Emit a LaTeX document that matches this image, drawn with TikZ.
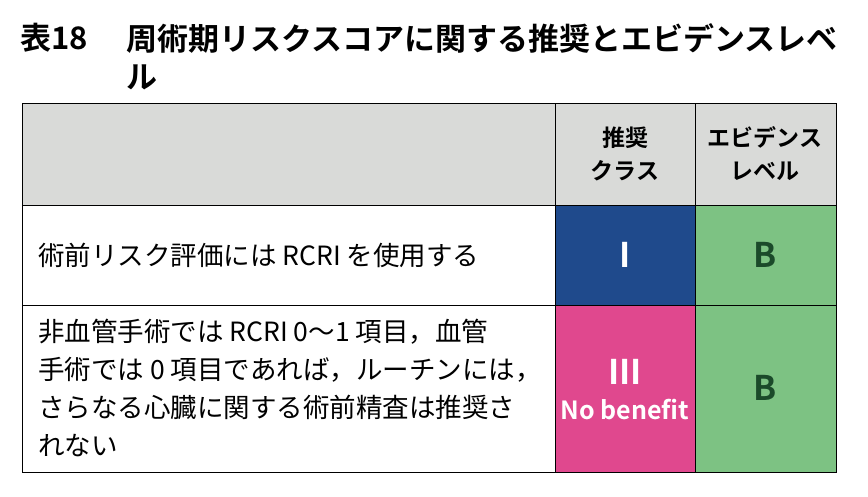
\documentclass[tikz,border=0pt]{standalone}
\usepackage{fontspec}
\setmainfont{Noto Sans CJK JP}
\newfontfamily\jpb{Noto Sans CJK JP Bold}
\definecolor{hdr}{HTML}{D9DAD8}
\definecolor{cblue}{HTML}{1F4A8C}
\definecolor{cpink}{HTML}{E0488E}
\definecolor{cgreen}{HTML}{7DC283}
\definecolor{bgreen}{HTML}{1B4A2A}
\begin{document}
\begin{tikzpicture}[x=1pt,y=-1pt,
  cell/.style={draw=black,line width=1pt},
  body/.style={anchor=west,font=\fontsize{26.5}{38}\selectfont,align=left,inner sep=0pt},
  hd/.style={font=\jpb\fontsize{23}{33}\selectfont,align=center,inner sep=0pt},
  big/.style={font=\jpb\fontsize{34}{36}\selectfont,inner sep=0pt},
  ttl/.style={anchor=west,inner sep=0pt,font=\jpb\fontsize{31}{36}\selectfont}]
\useasboundingbox (0,0) rectangle (868,496);
\fill[white] (0,0) rectangle (868,496);
\node[ttl] (t1) at (20,38) {表18};
\node[ttl] (t2) at (126,38) {周術期リスクスコアに関する推奨とエビデンスレベ};
\node[ttl] (t3) at (126,77) {ル};
\path[cell,fill=hdr] (22,103) rectangle (555,205);
\path[cell,fill=hdr] (555,103) rectangle (695,205);
\path[cell,fill=hdr] (695,103) rectangle (836,205);
\path[cell,fill=white] (22,205) rectangle (555,305);
\path[cell,fill=cblue] (555,205) rectangle (695,305);
\path[cell,fill=cgreen] (695,205) rectangle (836,305);
\path[cell,fill=white] (22,305) rectangle (555,472);
\path[cell,fill=cpink] (555,305) rectangle (695,472);
\path[cell,fill=cgreen] (695,305) rectangle (836,472);
\node[hd] (h1) at (625,154) {推奨\\クラス};
\node[hd] (h2) at (765,154) {エビデンス\\レベル};
\node[body] (r1) at (38,255) {術前リスク評価には RCRI を使用する};
\node[big,text=white] (c1) at (625,255) {I};
\node[big,text=bgreen] (e1) at (765,255) {B};
\node[body] (r2) at (38,388) {非血管手術では RCRI 0～1 項目，血管\\手術では 0 項目であれば，ルーチンには，\\さらなる心臓に関する術前精査は推奨さ\\れない};
\node[big,text=white] (c2) at (625,372) {III};
\node[text=white,font=\jpb\fontsize{25}{28}\selectfont,inner sep=0pt] (c2b) at (625,410) {No benefit};
\node[big,text=bgreen] (e2) at (765,388) {B};
\end{tikzpicture}
\end{document}
